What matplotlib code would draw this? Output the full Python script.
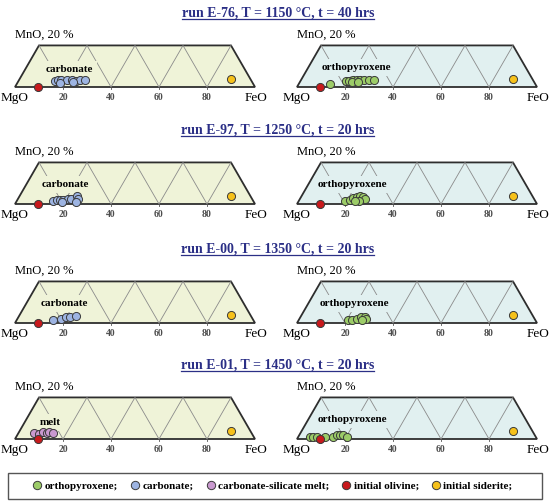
import numpy as np
import matplotlib
matplotlib.use('Agg')
import matplotlib.pyplot as plt
from matplotlib.lines import Line2D
from matplotlib.patches import Polygon, Rectangle

plt.rcParams['font.family'] = ['Liberation Serif', 'DejaVu Serif']

# ── Data (FeO, MnO in wt.% of MgO-FeO-MnO; MgO is the rest) ──────────────────

TITLES = ['run E-76, T = 1150 °C, t = 40 hrs',
          'run E-97, T = 1250 °C, t = 20 hrs',
          'run E-00, T = 1350 °C, t = 20 hrs',
          'run E-01, T = 1450 °C, t = 20 hrs']

# left column: carbonate (rows 1-3) and carbonate-silicate melt (row 4)
carb_e76_feo = [15.3, 16.5, 17.6, 19.9, 22.0, 24.0, 25.5, 27.4, 17.8, 23.2]
carb_e76_mno = [2.7, 3.2, 3.5, 3.2, 3.2, 2.7, 3.2, 3.5, 1.9, 2.3]
carb_e97_feo = [15.3, 16.4, 17.6, 19.0, 20.8, 22.1, 23.8, 25.0, 24.9, 18.9]
carb_e97_mno = [1.4, 1.9, 1.9, 1.9, 2.4, 2.6, 3.8, 2.4, 1.0, 1.2]
carb_e00_feo = [14.9, 18.4, 19.9, 21.4, 23.8]
carb_e00_mno = [1.6, 1.9, 2.7, 2.9, 3.2]
melt_e01_feo = [6.5, 8.8, 10.1, 11.7, 12.5, 14.1]
melt_e01_mno = [2.9, 2.6, 3.4, 2.9, 3.6, 3.1]

# right column: orthopyroxene
opx_e76_feo = [13.0, 19.0, 20.3, 21.9, 23.1, 24.6, 26.4, 28.5, 30.5, 21.7, 24.3]
opx_e76_mno = [1.6, 2.7, 2.7, 3.2, 3.5, 3.2, 3.2, 3.2, 3.5, 2.3, 2.4]
opx_e97_feo = [19.2, 21.1, 22.1, 23.3, 24.4, 26.0, 27.1, 25.0, 23.5]
opx_e97_mno = [1.6, 1.9, 2.7, 3.2, 3.7, 3.2, 2.4, 1.6, 1.3]
opx_e00_feo = [20.3, 22.0, 23.9, 25.3, 26.8, 28.0, 26.5]
opx_e00_mno = [1.6, 1.6, 1.9, 2.7, 2.9, 1.9, 1.3]
opx_e01_feo = [5.0, 6.2, 7.8, 11.1, 14.7, 15.7, 17.0, 18.4, 20.2]
opx_e01_mno = [0.8, 1.2, 0.8, 1.2, 0.8, 1.7, 1.9, 1.7, 1.0]

olivine_feo, olivine_mno = [9.5], [0.2]
siderite_feo, siderite_mno = [88.0], [3.9]

TICKS = [20, 40, 60, 80]

LEFT = [('carbonate', carb_e76_feo, carb_e76_mno),
        ('carbonate', carb_e97_feo, carb_e97_mno),
        ('carbonate', carb_e00_feo, carb_e00_mno),
        ('melt', melt_e01_feo, melt_e01_mno)]
RIGHT = [('orthopyroxene', opx_e76_feo, opx_e76_mno),
         ('orthopyroxene', opx_e97_feo, opx_e97_mno),
         ('orthopyroxene', opx_e00_feo, opx_e00_mno),
         ('orthopyroxene', opx_e01_feo, opx_e01_mno)]

# ── Style ─────────────────────────────────────────────────────────────────────

COLORS = {'orthopyroxene': '#9ccc68', 'carbonate': '#9db4e2',
          'melt': '#c999cf', 'olivine': '#c8191c', 'siderite': '#f6c11a'}
FILL_L, FILL_R = '#eff3d8', '#e1f0f0'
TITLE_COLOR = '#2b2f86'
EDGE = '#3a3a3a'

W_PX, H_PX = 550, 501
SCALE = 2.4                    # px per ternary unit
ROW_BASE = [87, 204, 323, 439]  # px from top of the MgO-FeO edge
COL_X0 = [15, 297]              # px of the MgO corner
LABEL_POS = {0: [(22.5, 7.5), (20.8, 8), (20.6, 8), (14.6, 7)],
             1: [(24.6, 8), (23.0, 8), (23.7, 8), (23.0, 8)]}

S3 = np.sqrt(3) / 2


def tern(feo, mno):
    feo, mno = np.asarray(feo, float), np.asarray(mno, float)
    return feo + mno / 2, mno * S3


def draw_panel(ax, fill, label, label_xy, phase, feo, mno):
    ax.set_xlim(-6.25, 106.25)
    ax.set_ylim(-7.0, 23.0)
    ax.axis('off')

    cx, cy = tern([0, 100, 80, 0], [0, 0, 20, 20])
    ax.add_patch(Polygon(np.c_[cx, cy], closed=True, fc=fill, ec='#2e2e2e', lw=1.3, zorder=1))

    zx, zy = tern([0, 20, 20, 40, 40, 60, 60, 80, 80], [20, 0, 20, 0, 20, 0, 20, 0, 20])
    ax.plot(zx, zy, color='#8a8a8a', lw=0.6, zorder=2)

    for t in TICKS:
        ax.plot([t, t], [0, -1.0], color='#555555', lw=0.6, zorder=2)
        ax.text(t, -4.4, str(t), ha='center', va='center', fontsize=7,
                fontweight='bold', color='#4d4d4d')

    ax.text(0, -4.6, 'MgO', ha='center', va='center', fontsize=9.5)
    ax.text(100.5, -4.6, 'FeO', ha='center', va='center', fontsize=9.5)
    ax.text(0, 21.7, 'MnO, 20 %', ha='left', va='center', fontsize=9)

    ax.text(label_xy[0], label_xy[1], label, ha='center', va='center', fontsize=8,
            fontweight='bold', zorder=3,
            bbox=dict(boxstyle='square,pad=0.35', fc=fill, ec='none'))

    px, py = tern(feo, mno)
    ax.scatter(px, py, s=34, c=COLORS[phase], edgecolors=EDGE, linewidths=0.7, zorder=4)
    ox, oy = tern(olivine_feo, olivine_mno)
    ax.scatter(ox, oy, s=34, c=COLORS['olivine'], edgecolors=EDGE, linewidths=0.7, zorder=5)
    sx, sy = tern(siderite_feo, siderite_mno)
    ax.scatter(sx, sy, s=34, c=COLORS['siderite'], edgecolors=EDGE, linewidths=0.7, zorder=5)


fig = plt.figure(figsize=(W_PX / 100, H_PX / 100), dpi=100)

ax_w_px = 112.5 * SCALE
ax_h_px = 30.0 * SCALE
titles = []
for r in range(4):
    base = ROW_BASE[r]
    bottom_px = base + 7.0 * SCALE
    for c, (fill, spec) in enumerate([(FILL_L, LEFT[r]), (FILL_R, RIGHT[r])]):
        left_px = COL_X0[c] - 6.25 * SCALE
        ax = fig.add_axes([left_px / W_PX, (H_PX - bottom_px) / H_PX,
                           ax_w_px / W_PX, ax_h_px / H_PX])
        name, feo, mno = spec
        draw_panel(ax, fill, name, LABEL_POS[c][r], name, feo, mno)
    t = fig.text(0.505, (H_PX - (base - 70.5)) / H_PX, TITLES[r], ha='center',
                 va='baseline', fontsize=10, fontweight='bold', color=TITLE_COLOR)
    titles.append(t)

# underline titles
fig.canvas.draw()
renderer = fig.canvas.get_renderer()
for t in titles:
    bb = t.get_window_extent(renderer)
    y_base = t.get_position()[1] * H_PX - 2.0
    fig.add_artist(Line2D([bb.x0 / W_PX, bb.x1 / W_PX], [y_base / H_PX] * 2,
                          color=TITLE_COLOR, lw=0.9))

# legend
fig.add_artist(Rectangle((8 / W_PX, (H_PX - 499) / H_PX), 534 / W_PX, 26 / H_PX,
                         transform=fig.transFigure, fc='white', ec='#555555', lw=1.0))
leg_items = [('orthopyroxene;', 'orthopyroxene'), ('carbonate;', 'carbonate'),
             ('carbonate-silicate melt;', 'melt'), ('initial olivine;', 'olivine'),
             ('initial siderite;', 'siderite')]
handles = [Line2D([], [], ls='none', marker='o', ms=6, mfc=COLORS[k], mec=EDGE, mew=0.7)
           for _, k in leg_items]
fig.legend(handles, [l for l, _ in leg_items], loc='center',
           bbox_to_anchor=(273 / W_PX, (H_PX - 486) / H_PX), ncol=5, frameon=False,
           handlelength=0.7, handletextpad=0.3, columnspacing=1.2,
           prop={'weight': 'bold', 'size': 8})

fig.savefig('out.png', dpi=100)
